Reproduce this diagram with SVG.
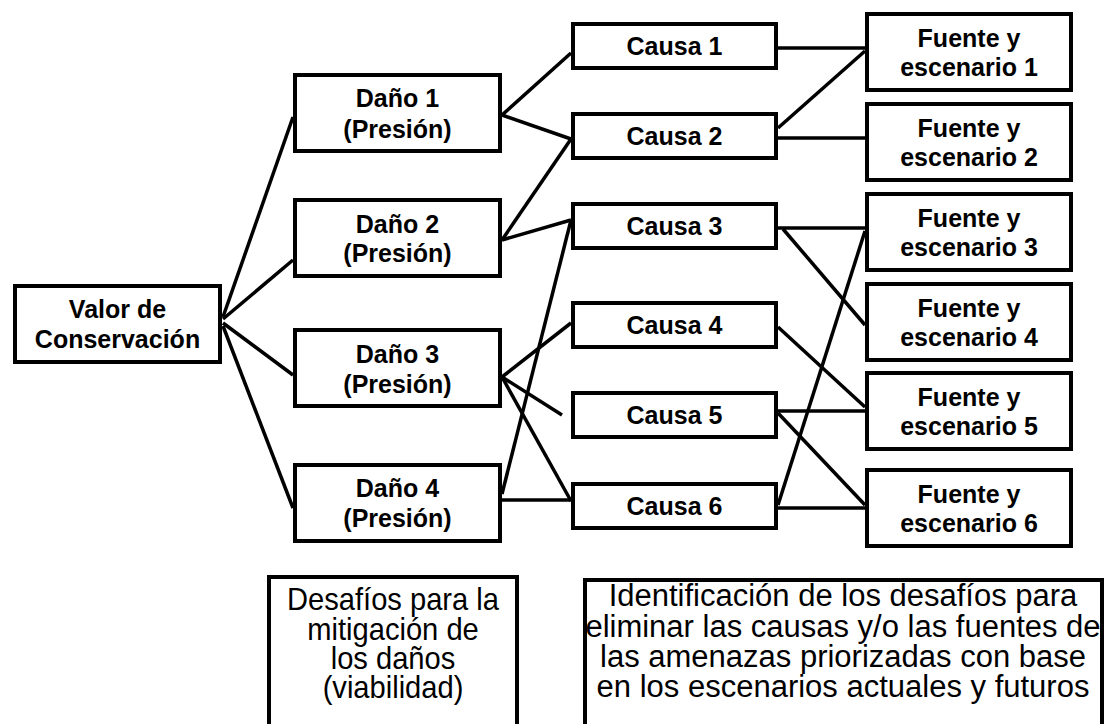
<svg xmlns="http://www.w3.org/2000/svg" width="1108" height="724" viewBox="0 0 1108 724">
<style>
.box{fill:#fff;stroke:#000;stroke-width:4}
.t{font-family:"Liberation Sans",Arial,sans-serif;font-weight:bold;font-size:25px;text-anchor:middle;fill:#000}
.r{font-family:"Liberation Sans",Arial,sans-serif;font-size:31px;text-anchor:middle;fill:#000}
.c line{stroke:#000;stroke-width:3.5;stroke-linecap:butt}
</style>
<rect width="1108" height="724" fill="#fff"/>
<g class="c" id="connectors">
<line x1="223" y1="317" x2="293" y2="117"/>
<line x1="223" y1="319" x2="293" y2="260"/>
<line x1="223" y1="323" x2="293" y2="375"/>
<line x1="223" y1="326" x2="293" y2="508"/>
<line x1="502" y1="115" x2="571" y2="53"/>
<line x1="502" y1="115" x2="571" y2="139"/>
<line x1="502" y1="240" x2="571" y2="139"/>
<line x1="502" y1="240" x2="571" y2="220"/>
<line x1="502" y1="377" x2="571" y2="323"/>
<line x1="502" y1="377" x2="562" y2="415"/>
<line x1="502" y1="377" x2="571" y2="501"/>
<line x1="502" y1="494" x2="571" y2="220"/>
<line x1="502" y1="500" x2="571" y2="500"/>
<line x1="778" y1="48" x2="865" y2="48"/>
<line x1="778" y1="128" x2="865" y2="51"/>
<line x1="778" y1="138" x2="865" y2="138"/>
<line x1="778" y1="228" x2="865" y2="228"/>
<line x1="783" y1="229" x2="865" y2="325"/>
<line x1="778" y1="505" x2="865" y2="231"/>
<line x1="778" y1="327" x2="865" y2="407"/>
<line x1="778" y1="411" x2="865" y2="411"/>
<line x1="778" y1="413" x2="865" y2="505"/>
<line x1="778" y1="508" x2="865" y2="508"/>
</g>
<g id="valor"><rect class="box" x="15" y="286" width="205" height="76"/><text class="t" x="117.5" y="318">Valor de</text><text class="t" x="117.5" y="348">Conservación</text></g>
<g id="dano1"><rect class="box" x="295" y="75" width="205" height="76"/><text class="t" x="397.5" y="107">Daño 1</text><text class="t" x="397.5" y="138">(Presión)</text></g>
<g id="dano2"><rect class="box" x="295" y="200" width="205" height="76"/><text class="t" x="397.5" y="233">Daño 2</text><text class="t" x="397.5" y="262">(Presión)</text></g>
<g id="dano3"><rect class="box" x="295" y="330" width="205" height="76"/><text class="t" x="397.5" y="363">Daño 3</text><text class="t" x="397.5" y="393">(Presión)</text></g>
<g id="dano4"><rect class="box" x="295" y="465" width="205" height="76"/><text class="t" x="397.5" y="497">Daño 4</text><text class="t" x="397.5" y="527">(Presión)</text></g>
<g id="causa1"><rect class="box" x="573" y="24" width="203" height="44"/><text class="t" x="674.5" y="55">Causa 1</text></g>
<g id="causa2"><rect class="box" x="573" y="114" width="203" height="44"/><text class="t" x="674.5" y="145">Causa 2</text></g>
<g id="causa3"><rect class="box" x="573" y="204" width="203" height="44"/><text class="t" x="674.5" y="235">Causa 3</text></g>
<g id="causa4"><rect class="box" x="573" y="303" width="203" height="44"/><text class="t" x="674.5" y="334">Causa 4</text></g>
<g id="causa5"><rect class="box" x="573" y="393" width="203" height="44"/><text class="t" x="674.5" y="424">Causa 5</text></g>
<g id="causa6"><rect class="box" x="573" y="484" width="203" height="44"/><text class="t" x="674.5" y="515">Causa 6</text></g>
<g id="fuente1"><rect class="box" x="867" y="14" width="204" height="76"/><text class="t" x="969" y="47">Fuente y</text><text class="t" x="969" y="76">escenario 1</text></g>
<g id="fuente2"><rect class="box" x="867" y="104" width="204" height="76"/><text class="t" x="969" y="137">Fuente y</text><text class="t" x="969" y="166">escenario 2</text></g>
<g id="fuente3"><rect class="box" x="867" y="194" width="204" height="76"/><text class="t" x="969" y="227">Fuente y</text><text class="t" x="969" y="256">escenario 3</text></g>
<g id="fuente4"><rect class="box" x="867" y="284" width="204" height="76"/><text class="t" x="969" y="317">Fuente y</text><text class="t" x="969" y="346">escenario 4</text></g>
<g id="fuente5"><rect class="box" x="867" y="373" width="204" height="76"/><text class="t" x="969" y="406">Fuente y</text><text class="t" x="969" y="435">escenario 5</text></g>
<g id="fuente6"><rect class="box" x="867" y="470" width="204" height="76"/><text class="t" x="969" y="503">Fuente y</text><text class="t" x="969" y="532">escenario 6</text></g>
<g id="desafios-danos"><rect class="box" x="269" y="577" width="248" height="200"/>
<g transform="translate(393 0) scale(0.91 1)"><text class="r" style="font-size:32px" x="0" y="610">Desafíos para la</text><text class="r" style="font-size:32px" x="0" y="640">mitigación de</text><text class="r" style="font-size:32px" x="0" y="669">los daños</text><text class="r" style="font-size:32px" x="0" y="698">(viabilidad)</text></g></g>
<g id="desafios-causas"><rect class="box" x="585" y="580" width="517" height="200"/><text class="r" x="843" y="606">Identificación de los desafíos para</text><text class="r" x="843" y="637">eliminar las causas y/o las fuentes de</text><text class="r" x="843" y="667">las amenazas priorizadas con base</text><text class="r" x="843" y="697">en los escenarios actuales y futuros</text></g>
</svg>
